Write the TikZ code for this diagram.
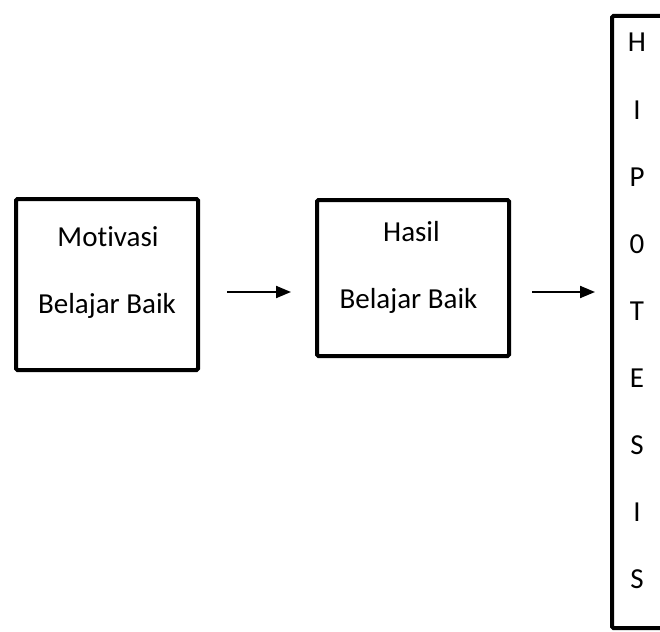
\documentclass[tikz,border=0pt]{standalone}
\usepackage{fontspec}
\setmainfont[Ligatures={NoCommon}]{Carlito}
\usetikzlibrary{arrows.meta}
\begin{document}
\begin{tikzpicture}[x=1pt,y=-1pt,
  box/.style={draw=black,line width=4pt,rounded corners=1.5pt,inner sep=0pt},
  lbl/.style={anchor=base,inner sep=0pt,font=\fontsize{29}{34}\selectfont},
  arr/.style={draw=black,line width=2pt,-{Triangle[length=15pt,width=12pt]}}]
\useasboundingbox (0,0) rectangle (660,631);
% boxes
\node[box,minimum width=182pt,minimum height=171pt] (b1) at (107,284.5) {};
\node[box,minimum width=192pt,minimum height=156pt] (b2) at (413,278) {};
\node[box,minimum width=90pt,minimum height=612pt,anchor=north west] (b3) at (610,14) {};
% texts
\node[lbl] (t1) at (108,246) {Motivasi};
\node[lbl] (t2) at (107,313) {Belajar Baik};
\node[lbl] (t3) at (411.5,241) {Hasil};
\node[lbl] (t4) at (408.5,308) {Belajar Baik};
\foreach \c [count=\i from 0] in {H,I,P,0,T,E,S,I,S}{
  \node[lbl] (h\i) at (637,52+67.1*\i) {\c};
}
% arrows
\coordinate (a1s) at (227,292);
\coordinate (a1e) at (291,292);
\coordinate (a2s) at (532,292);
\coordinate (a2e) at (595,292);
\draw[arr] (a1s) -- (a1e);
\draw[arr] (a2s) -- (a2e);
\end{tikzpicture}
\end{document}
